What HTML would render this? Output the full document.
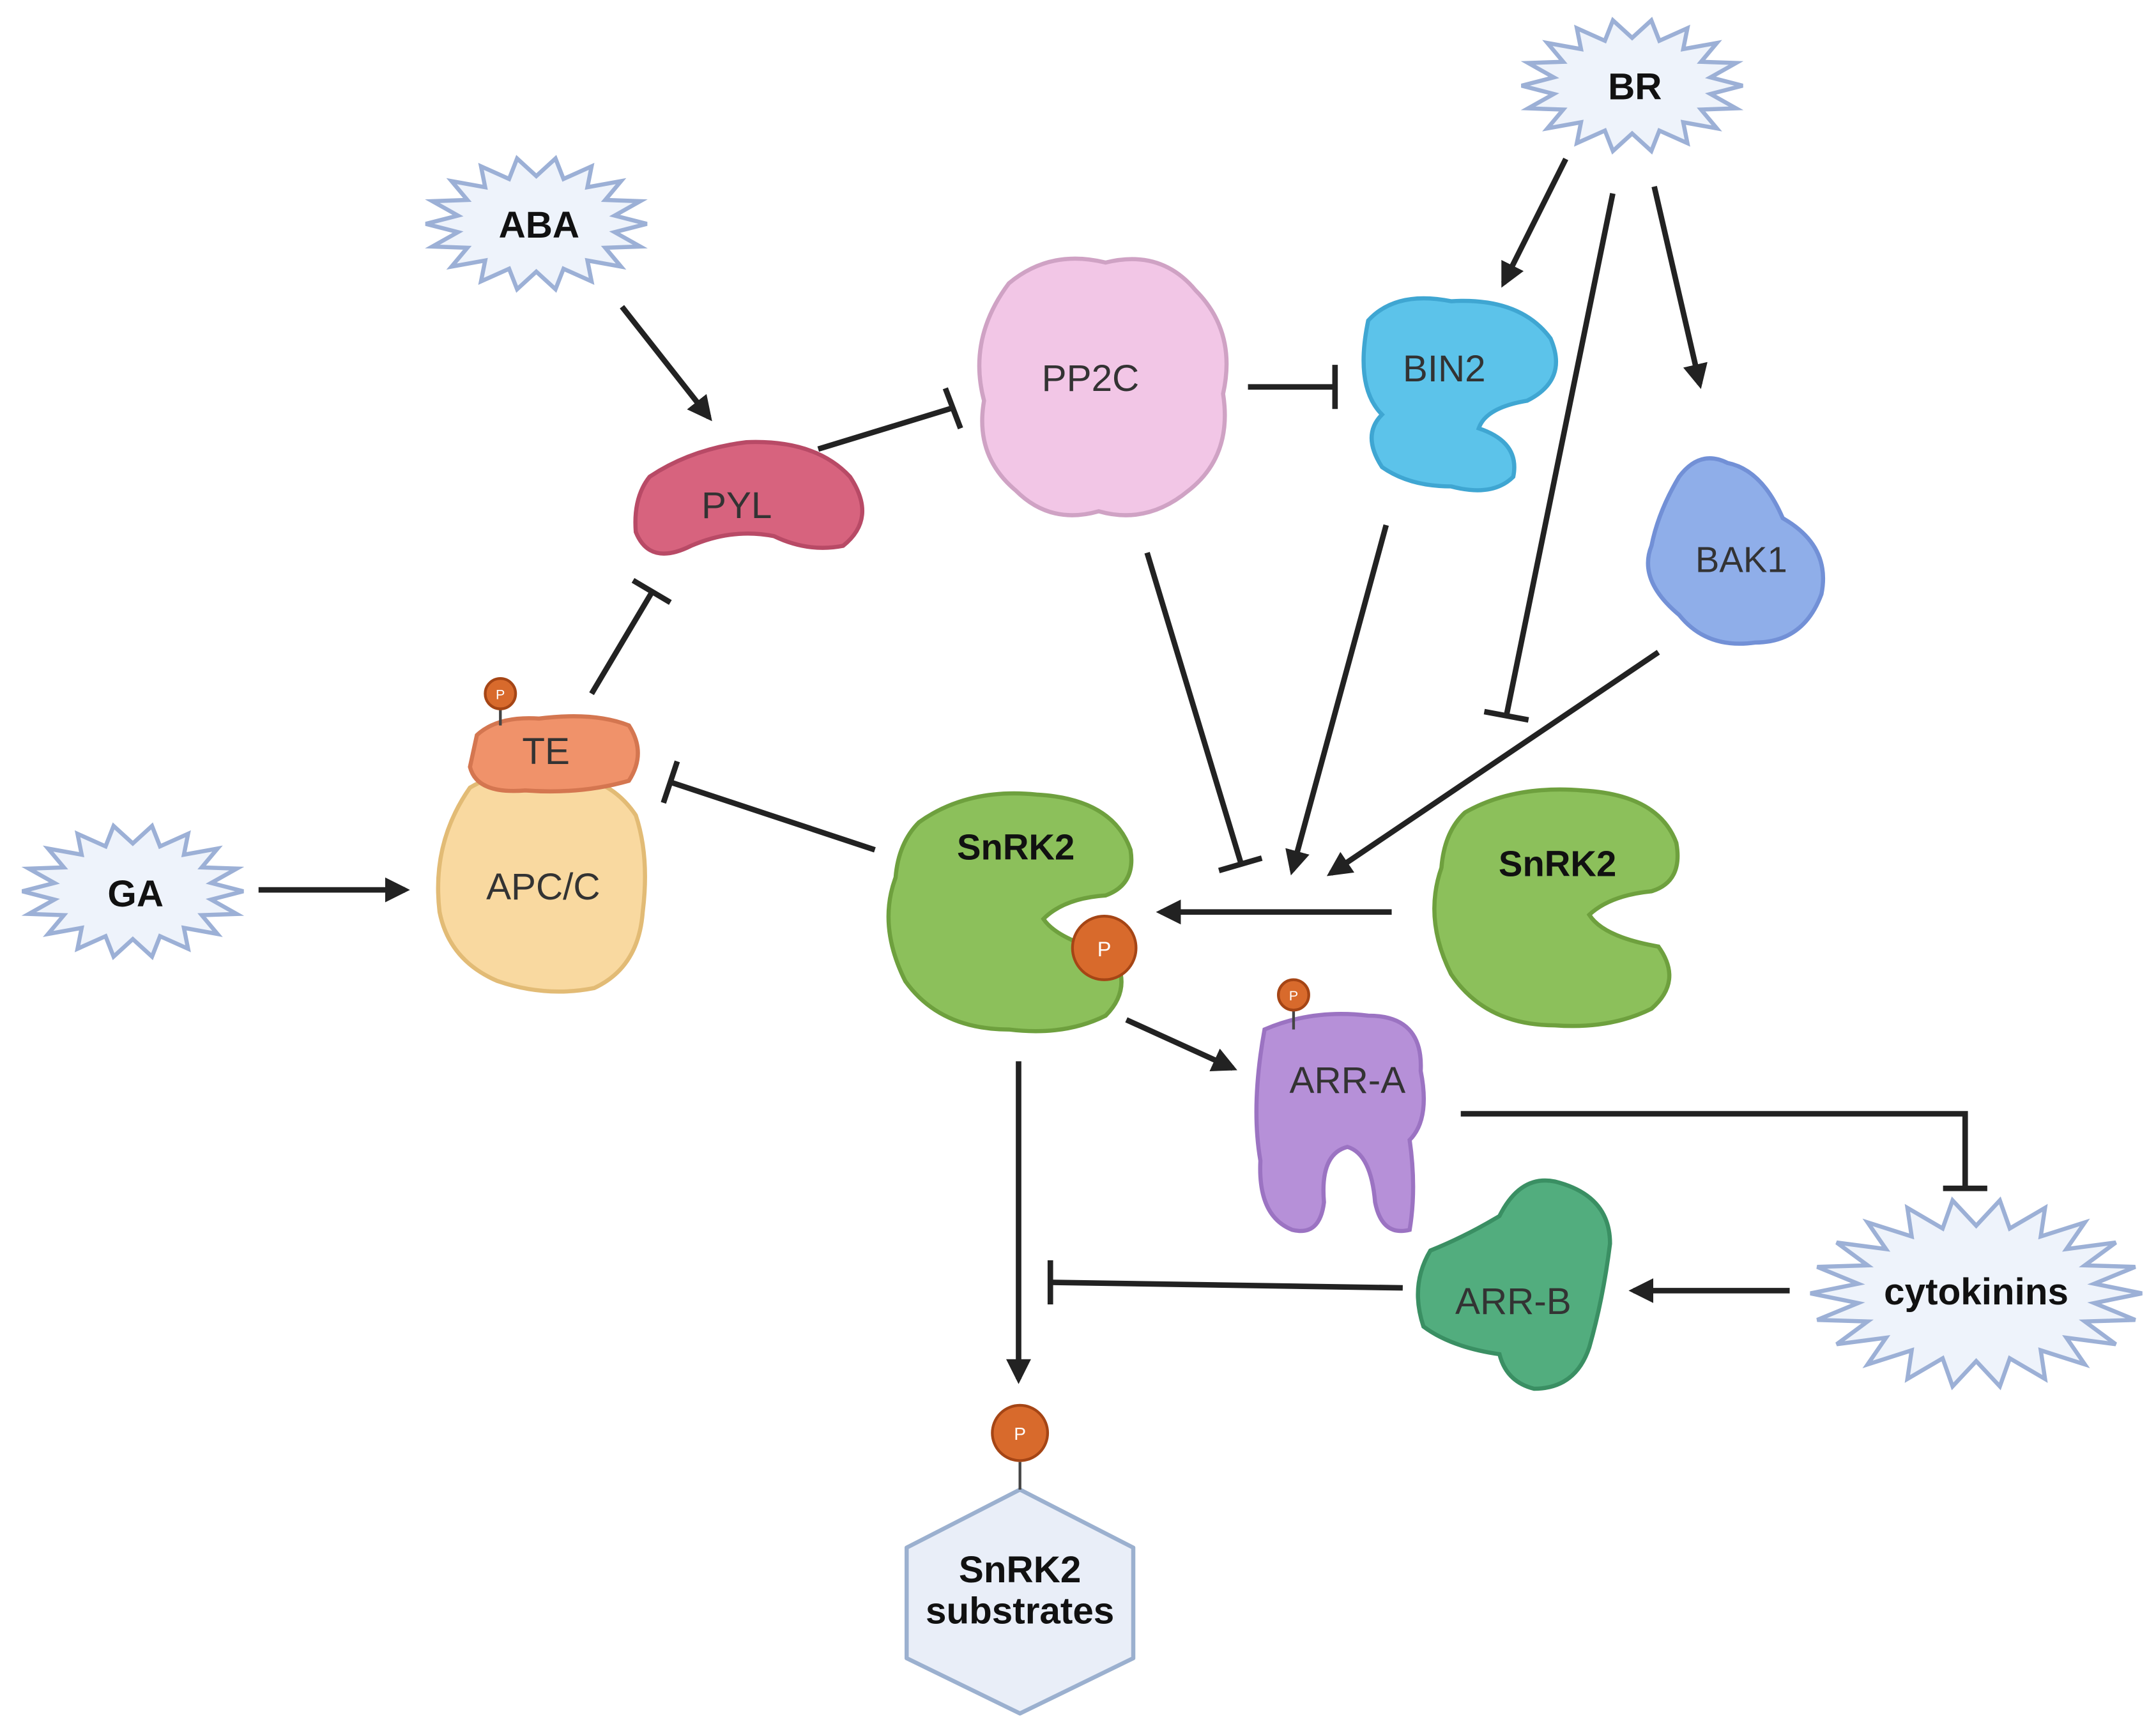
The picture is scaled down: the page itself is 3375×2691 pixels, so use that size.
<!DOCTYPE html>
<html><head><meta charset="utf-8">
<style>
html,body{margin:0;padding:0;background:#fff;}
svg{display:block;}
text{font-family:"Liberation Sans",sans-serif;}
</style></head>
<body>
<svg id="s" width="3375" height="2691" viewBox="0 0 1560 1244" xmlns="http://www.w3.org/2000/svg">
<defs>
<marker id="ar" viewBox="0 0 10 10" refX="8" refY="5" markerWidth="4.5" markerHeight="4.5" orient="auto"><path d="M0,0 L10,5 L0,10 z" fill="#222"/></marker>
</defs>
<g id="stars"></g>

<!-- proteins -->
<!-- PP2C -->
<path d="M730,205 Q760,180 800,190 Q840,180 865,210 Q895,240 885,285 Q892,330 860,355 Q830,380 795,370 Q760,380 735,355 Q705,330 712,290 Q700,245 730,205z" fill="#f2c6e6" stroke="#cfa2c4" stroke-width="3"/>
<text x="789" y="283" font-size="27" text-anchor="middle" fill="#333">PP2C</text>
<!-- BIN2 -->
<path d="M990,232 Q1010,210 1050,218 Q1100,215 1122,245 Q1135,275 1105,290 Q1075,295 1070,310 Q1100,320 1095,345 Q1080,360 1050,352 Q1020,352 1000,338 Q985,315 1000,300 Q980,280 990,232z" fill="#5cc3ea" stroke="#3fa6d2" stroke-width="3"/>
<text x="1045" y="276" font-size="27" text-anchor="middle" fill="#333">BIN2</text>
<!-- BAK1 -->
<path d="M1215,345 Q1230,325 1250,335 Q1275,340 1290,375 Q1325,395 1318,430 Q1305,465 1270,465 Q1235,470 1215,445 Q1185,420 1195,395 Q1200,370 1215,345z" fill="#8faee9" stroke="#7290d6" stroke-width="3"/>
<text x="1260" y="414" font-size="26" text-anchor="middle" fill="#333">BAK1</text>
<!-- PYL -->
<path d="M470,345 Q500,325 540,320 Q590,318 615,345 Q635,375 610,395 Q585,400 560,388 Q530,382 500,395 Q470,410 460,385 Q458,360 470,345z" fill="#d7637e" stroke="#b84a66" stroke-width="3"/>
<text x="533" y="375" font-size="27" text-anchor="middle" fill="#333">PYL</text>
<!-- APC/C -->
<path d="M340,570 Q365,555 400,560 Q440,560 460,590 Q470,620 465,660 Q462,700 430,715 Q395,722 360,710 Q325,695 318,660 Q312,610 340,570z" fill="#f9d9a0" stroke="#e2bb75" stroke-width="3"/>
<text x="393" y="651" font-size="27" text-anchor="middle" fill="#333">APC/C</text>
<!-- TE -->
<path d="M345,532 Q360,518 390,520 Q430,515 455,525 Q468,545 455,565 Q420,575 380,572 Q345,575 340,555z" fill="#f0926a" stroke="#d47650" stroke-width="3"/>
<text x="395" y="553" font-size="27" text-anchor="middle" fill="#333">TE</text>
<line x1="362" y1="512" x2="362" y2="525" stroke="#444" stroke-width="2"/>
<circle cx="362" cy="502" r="11" fill="#d86a2c" stroke="#a54515" stroke-width="2"/>
<text x="362" y="506" font-size="10" text-anchor="middle" fill="#fff">P</text>
<!-- SnRK2 left -->
<path d="M665,595 Q700,570 750,575 Q805,578 818,615 Q822,640 800,648 Q770,650 755,665 Q765,680 805,690 Q820,715 800,735 Q770,750 730,745 Q680,745 655,710 Q635,670 648,635 Q650,610 665,595z" fill="#8cc05b" stroke="#6ea03e" stroke-width="3"/>
<text x="735" y="622" font-size="26" font-weight="bold" text-anchor="middle" fill="#111">SnRK2</text>
<circle cx="799" cy="686" r="23" fill="#d86a2c" stroke="#a54515" stroke-width="2"/>
<text x="799" y="692" font-size="15" text-anchor="middle" fill="#fff">P</text>
<!-- SnRK2 right -->
<path d="M1060,588 Q1095,568 1145,572 Q1200,575 1213,610 Q1218,638 1195,645 Q1165,648 1150,662 Q1160,678 1200,685 Q1218,710 1195,730 Q1165,745 1125,742 Q1075,742 1050,705 Q1030,665 1043,628 Q1045,602 1060,588z" fill="#8cc05b" stroke="#6ea03e" stroke-width="3"/>
<text x="1127" y="634" font-size="26" font-weight="bold" text-anchor="middle" fill="#111">SnRK2</text>
<!-- ARR-A -->
<path d="M915,745 Q950,730 990,735 Q1030,735 1028,775 Q1035,810 1020,825 Q1025,860 1020,890 Q1000,895 995,870 Q992,835 975,830 Q955,835 958,870 Q955,895 935,890 Q910,880 912,840 Q905,800 915,745z" fill="#b690d8" stroke="#9b73c2" stroke-width="3"/>
<text x="975" y="791" font-size="27" text-anchor="middle" fill="#333">ARR-A</text>
<line x1="936" y1="730" x2="936" y2="745" stroke="#444" stroke-width="2"/>
<circle cx="936" cy="720" r="11" fill="#d86a2c" stroke="#a54515" stroke-width="2"/>
<text x="936" y="724" font-size="10" text-anchor="middle" fill="#fff">P</text>
<!-- ARR-B -->
<path d="M1085,880 Q1100,850 1125,855 Q1165,865 1165,900 Q1160,940 1150,975 Q1140,1005 1110,1005 Q1090,1000 1085,980 Q1050,975 1030,960 Q1020,930 1035,905 Q1060,895 1085,880z" fill="#52ad7e" stroke="#3a8f63" stroke-width="3"/>
<text x="1095" y="951" font-size="27" text-anchor="middle" fill="#333">ARR-B</text>
<!-- Hexagon -->
<path d="M738,1078 L820,1120 L820,1200 L738,1240 L656,1200 L656,1120 Z" fill="#e9eef8" stroke="#9bb0cf" stroke-width="3" stroke-linejoin="round"/>
<text x="738" y="1145" font-size="27" font-weight="bold" text-anchor="middle" fill="#111">SnRK2</text>
<text x="738" y="1175" font-size="27" font-weight="bold" text-anchor="middle" fill="#111">substrates</text>
<line x1="738" y1="1058" x2="738" y2="1078" stroke="#444" stroke-width="2"/>
<circle cx="738" cy="1037" r="20" fill="#d86a2c" stroke="#a54515" stroke-width="2"/>
<text x="738" y="1042" font-size="13" text-anchor="middle" fill="#fff">P</text>

<!-- connectors -->
<g stroke="#222" stroke-width="4" fill="none">
<line x1="450" y1="222" x2="513" y2="302" marker-end="url(#ar)"/>
<line x1="592" y1="325" x2="690" y2="295"/><line x1="684" y1="281" x2="695" y2="310"/>
<line x1="903" y1="280" x2="966" y2="280"/><line x1="966" y1="264" x2="966" y2="296"/>
<line x1="1133" y1="115" x2="1088" y2="205" marker-end="url(#ar)"/>
<line x1="1197" y1="135" x2="1230" y2="278" marker-end="url(#ar)"/>
<line x1="1167" y1="140" x2="1090" y2="518"/><line x1="1074" y1="515" x2="1106" y2="521"/>
<line x1="1003" y1="380" x2="935" y2="630" marker-end="url(#ar)"/>
<line x1="830" y1="400" x2="898" y2="625"/><line x1="882" y1="630" x2="913" y2="621"/>
<line x1="1200" y1="472" x2="963" y2="632" marker-end="url(#ar)"/>
<line x1="1007" y1="660" x2="840" y2="660" marker-end="url(#ar)"/>
<line x1="428" y1="502" x2="472" y2="428"/><line x1="458" y1="420" x2="485" y2="436"/>
<line x1="633" y1="615" x2="485" y2="566"/><line x1="490" y1="551" x2="480" y2="581"/>
<line x1="187" y1="644" x2="293" y2="644" marker-end="url(#ar)"/>
<line x1="815" y1="738" x2="892" y2="773" marker-end="url(#ar)"/>
<line x1="737" y1="768" x2="737" y2="998" marker-end="url(#ar)"/>
<polyline points="1057,806 1422,806 1422,860"/><line x1="1406" y1="860" x2="1438" y2="860"/>
<line x1="1015" y1="932" x2="760" y2="928"/><line x1="760" y1="912" x2="760" y2="944"/>
<line x1="1295" y1="934" x2="1182" y2="934" marker-end="url(#ar)"/>
</g>
<g id="lbl" font-weight="bold" font-size="27" text-anchor="middle" fill="#111">
<text x="1183" y="72">BR</text>
<text x="390" y="172">ABA</text>
<text x="98" y="656">GA</text>
<text x="1430" y="944">cytokinins</text>
</g>
</svg>
<script>
(function(){
var g=document.getElementById('stars');
function star(cx,cy,rx,ry,n,k){
 var p=[];for(var i=0;i<2*n;i++){var a=Math.PI*i/n;var r=(i%2==0)?1:k;p.push((cx+Math.cos(a)*rx*r).toFixed(1)+','+(cy+Math.sin(a)*ry*r).toFixed(1));}
 var e=document.createElementNS('http://www.w3.org/2000/svg','polygon');
 e.setAttribute('points',p.join(' '));e.setAttribute('fill','#eef3fb');e.setAttribute('stroke','#9cb0d6');e.setAttribute('stroke-width','3');e.setAttribute('stroke-linejoin','miter');
 g.appendChild(e);}
star(1181,62,80,48,18,0.72);
star(388,162,80,48,18,0.72);
star(96,645,80,48,18,0.72);
star(1430,936,120,68,22,0.72);
})();
</script>
</body></html>
